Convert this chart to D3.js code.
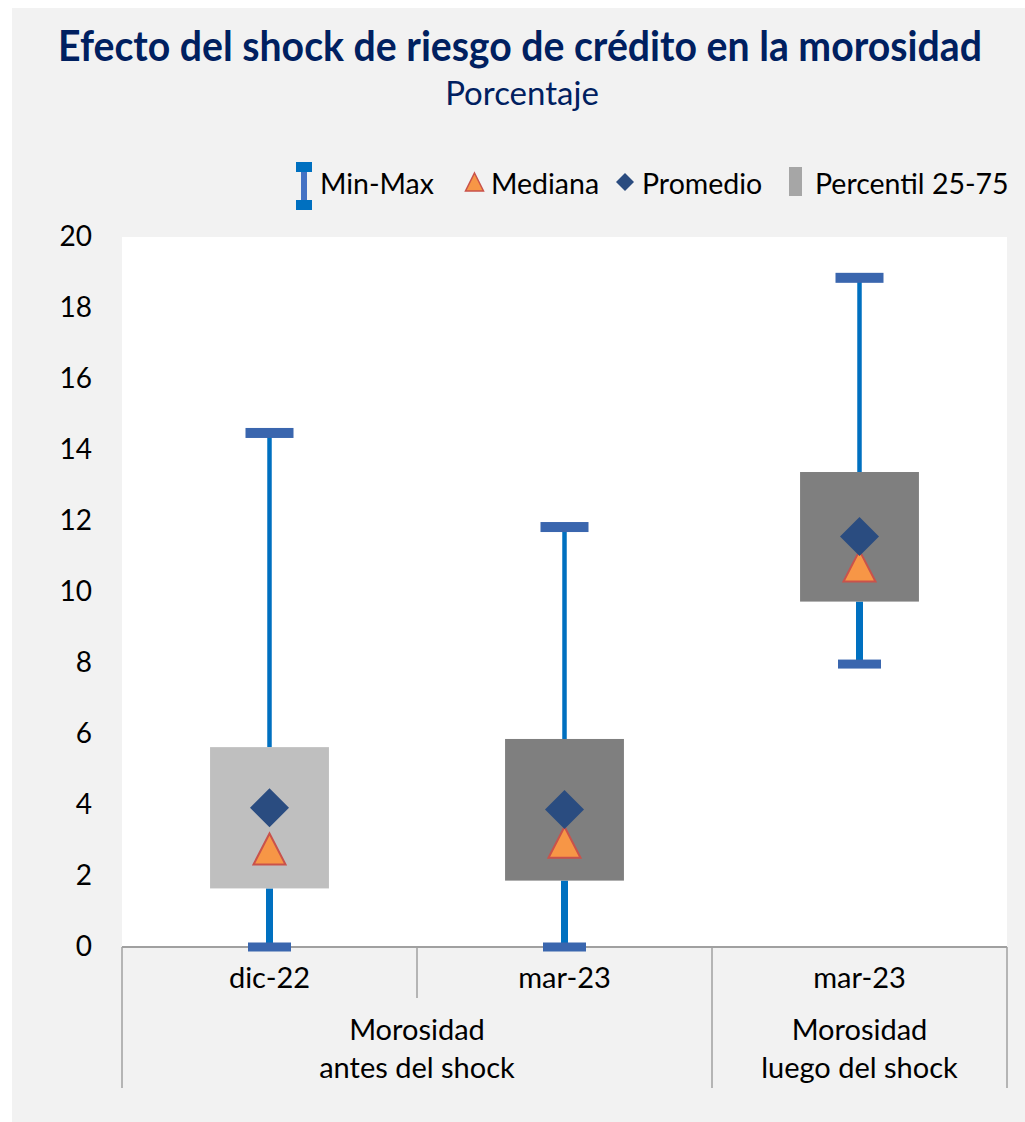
<!DOCTYPE html>
<html><head><meta charset="utf-8">
<script src="https://cdn.jsdelivr.net/npm/d3@7"></script>
<style>
html,body{margin:0;padding:0;background:#fff;}
svg text{font-family:Lato,"Open Sans",sans-serif;}
</style></head>
<body><svg id="c" width="1025" height="1122"></svg>
<script>
// ---- data ----
const categories = ["dic-22", "mar-23", "mar-23"];
const groupLabels = [["Morosidad", "antes del shock"], ["Morosidad", "luego del shock"]];
const groupSpans = [2, 1];
const minValues = [0, 0, 7.97];
const maxValues = [14.48, 11.83, 18.85];
const p25Values = [1.65, 1.87, 9.73];
const p75Values = [5.63, 5.86, 13.38];
const medianValues = [2.76, 2.95, 10.73];
const meanValues = [3.92, 3.87, 11.56];
const yTicks = [0, 2, 4, 6, 8, 10, 12, 14, 16, 18, 20];
const legendLabels = ["Min-Max", "Mediana", "Promedio", "Percentil 25-75"];
const titleText = "Efecto del shock de riesgo de crédito en la morosidad";
const subtitleText = "Porcentaje";

// ---- style ----
const boxColors = ["#BFBFBF", "#7F7F7F", "#7F7F7F"];
const navy = "#002060";
const whiskerColor = "#0070C0";
const capColor = "#3A66AE";
const triFill = "#F79646", triStroke = "#C9524B";
const diamondFill = "#2A4C80";
const gridGray = "#A0A0A0";

const svg = d3.select("#c");
svg.append("rect").attr("x", 12).attr("y", 8).attr("width", 1013).attr("height", 1114).attr("fill", "#F2F2F2");

const pL = 122, pR = 1007, pT = 237, pB = 947;
svg.append("rect").attr("x", pL).attr("y", pT).attr("width", pR - pL).attr("height", pB - pT).attr("fill", "#fff");

const idx = categories.map((d, i) => i);
const x = d3.scaleBand().domain(idx).range([pL, pR]).padding(0);
const y = d3.scaleLinear().domain([0, 20]).range([pB, pT]);
const bw = x.bandwidth();
const boxW = bw * 0.403;

// title (horizontally condensed to the reference width)
const tg = svg.append("g");
const t = tg.append("text").attr("x", 0).attr("y", 0).attr("text-anchor", "middle")
  .attr("font-size", 42).attr("font-weight", 700).attr("fill", navy).text(titleText);
const natW = t.node().getComputedTextLength();
const sx = Math.min(1, 924 / natW);
tg.attr("transform", `translate(520,61) scale(${sx},1)`);
svg.append("text").attr("x", 522).attr("y", 105).attr("text-anchor", "middle")
  .attr("font-size", 33).attr("fill", navy).text(subtitleText);

// y axis labels
const yAxis = d3.axisLeft(y).tickValues(yTicks).tickSize(0).tickPadding(0).tickFormat(d3.format("d"));
const ya = svg.append("g").attr("transform", `translate(92,0)`).call(yAxis);
ya.select(".domain").remove();
ya.selectAll("text").attr("font-size", 28).attr("fill", "#000").attr("font-family", "Lato");

// x axis line
svg.append("line").attr("x1", pL).attr("x2", pR).attr("y1", pB).attr("y2", pB)
  .attr("stroke", gridGray).attr("stroke-width", 2);
const xAxis = d3.axisBottom(x).tickSize(0).tickPadding(0).tickFormat(i => categories[i]);
const xa = svg.append("g").attr("transform", `translate(0,${pB})`).call(xAxis);
xa.select(".domain").remove();
xa.selectAll("text").attr("font-size", 29).attr("fill", "#000").attr("font-family", "Lato").attr("dy", "1.4em");

// vertical separators
let acc = 0;
const bounds = [pL];
groupSpans.forEach(s => { acc += s; bounds.push(x(acc - 1) + bw); });
idx.forEach(i => {
  const xx = x(i);
  const isGroupBound = bounds.some(b => Math.abs(b - xx) < 0.5);
  svg.append("line").attr("x1", xx).attr("x2", xx).attr("y1", pB).attr("y2", isGroupBound ? 1088 : 998)
    .attr("stroke", gridGray).attr("stroke-width", 1.5);
});
svg.append("line").attr("x1", pR).attr("x2", pR).attr("y1", pB).attr("y2", 1088)
  .attr("stroke", gridGray).attr("stroke-width", 1.5);

// group labels
acc = 0;
groupSpans.forEach((s, g) => {
  const x0 = x(acc), x1 = x(acc + s - 1) + bw;
  acc += s;
  const cx = (x0 + x1) / 2;
  groupLabels[g].forEach((line, k) => {
    svg.append("text").attr("x", cx).attr("y", 1040 + k * 38).attr("text-anchor", "middle")
      .attr("font-size", 29).attr("fill", "#000").text(line);
  });
});

// whiskers
const cxOf = i => x(i) + bw / 2;
idx.forEach(i => {
  svg.append("line").attr("x1", cxOf(i)).attr("x2", cxOf(i)).attr("y1", y(maxValues[i])).attr("y2", y(p75Values[i]))
    .attr("stroke", whiskerColor).attr("stroke-width", 4.5);
  svg.append("line").attr("x1", cxOf(i)).attr("x2", cxOf(i)).attr("y1", y(p25Values[i])).attr("y2", y(minValues[i]))
    .attr("stroke", whiskerColor).attr("stroke-width", 7);
});
// boxes
idx.forEach(i => {
  svg.append("rect").attr("x", cxOf(i) - boxW / 2).attr("y", y(p75Values[i]))
    .attr("width", boxW).attr("height", y(p25Values[i]) - y(p75Values[i])).attr("fill", boxColors[i]);
});
// caps
idx.forEach(i => {
  svg.append("rect").attr("x", cxOf(i) - 24).attr("y", y(maxValues[i]) - 5).attr("width", 48).attr("height", 10).attr("fill", capColor);
  svg.append("rect").attr("x", cxOf(i) - 21.5).attr("y", y(minValues[i]) - 4.5).attr("width", 43).attr("height", 9).attr("fill", capColor);
});
// triangles (median)
const triPath = (cx, cy, w, h) => `M${cx},${cy - h / 2}L${cx + w / 2},${cy + h / 2}L${cx - w / 2},${cy + h / 2}Z`;
idx.forEach(i => {
  svg.append("path").attr("d", triPath(cxOf(i), y(medianValues[i]), 32, 31))
    .attr("fill", triFill).attr("stroke", triStroke).attr("stroke-width", 2);
});
// diamonds (mean)
const diaPath = (cx, cy, r) => `M${cx},${cy - r}L${cx + r},${cy}L${cx},${cy + r}L${cx - r},${cy}Z`;
idx.forEach(i => {
  svg.append("path").attr("d", diaPath(cxOf(i), y(meanValues[i]), 19.5)).attr("fill", diamondFill);
});

// legend
const lg = svg.append("g");
lg.append("rect").attr("x", 301).attr("y", 166).attr("width", 6).attr("height", 40).attr("fill", "#4472C4");
lg.append("rect").attr("x", 296).attr("y", 162).attr("width", 16).attr("height", 10).attr("fill", whiskerColor);
lg.append("rect").attr("x", 296).attr("y", 200).attr("width", 16).attr("height", 10).attr("fill", whiskerColor);
lg.append("path").attr("d", triPath(474.5, 182, 18, 18)).attr("fill", triFill).attr("stroke", triStroke).attr("stroke-width", 1.5);
lg.append("path").attr("d", diaPath(625, 182, 9)).attr("fill", diamondFill);
lg.append("rect").attr("x", 789).attr("y", 167).attr("width", 13).attr("height", 29).attr("fill", "#A6A6A6");
const lx = [320, 491, 642, 815];
legendLabels.forEach((l, k) => {
  lg.append("text").attr("x", lx[k]).attr("y", 194).attr("font-size", 28.5).attr("fill", "#000").text(l);
});
</script></body></html>
